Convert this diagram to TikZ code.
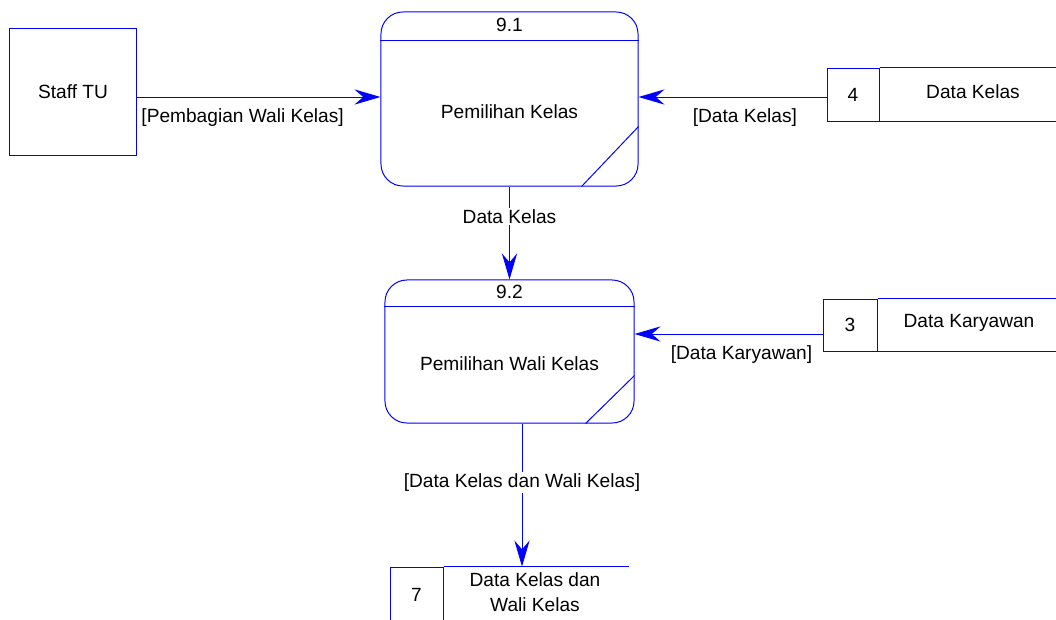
\documentclass[tikz,border=0pt]{standalone}
\usepackage{fontspec}
\setmainfont{Liberation Sans}
\usetikzlibrary{arrows.meta,calc}
\definecolor{dfdblue}{RGB}{0,0,255}

\begin{document}
\begin{tikzpicture}[
    x=0.025cm,
    y=0.025cm,
    font=\fontsize{13.6pt}{17.8pt}\selectfont,
    line width=0.7pt
]

% =========================
% Styles
% =========================
\tikzstyle{entity} = [
    rectangle, draw=dfdblue,
    minimum width=3.15cm,
    minimum height=3.15cm,
    inner sep=0pt
]

\tikzstyle{process} = [
    rectangle, draw=dfdblue,
    rounded corners=0.55cm,
    inner sep=0pt
]

\tikzstyle{storeid} = [
    rectangle, draw=dfdblue,
    inner sep=0pt
]

\tikzstyle{line} = [draw=dfdblue, -{Stealth[length=0.65cm, width=0.38cm, inset=0.22cm]}]
\tikzstyle{flow} = [inner sep=0pt, below=0.29cm]
\tikzstyle{cut} = [fill=white, inner sep=1pt]

\useasboundingbox (0,0) rectangle (1056,-619);

% =========================
% Nodes (FIXED POSITIONS)
% =========================
\node[entity] (stafftu) at (73,-92) {Staff TU};

\node[process, minimum width=6.425cm, minimum height=4.35cm] (p91) at (509.5,-99) {};
\node (p91id) at ($(p91.north)+(0,-13)$) {9.1};
\node (p91name) at ($(p91.center)+(0,-13)$) {Pemilihan Kelas};
\draw[dfdblue] ($(p91.north west)+(0,-29)$) -- ($(p91.north east)+(0,-29)$);
\draw[dfdblue] ($(p91.south east)+(0,60)$) -- ($(p91.south east)+(-57,0)$);

\node[process, minimum width=6.225cm, minimum height=3.575cm] (p92) at (509.5,-351.5) {};
\node (p92id) at ($(p92.north)+(0,-12)$) {9.2};
\node (p92name) at ($(p92.center)+(0,-12.5)$) {Pemilihan Wali Kelas};
\draw[dfdblue] ($(p92.north west)+(0,-27)$) -- ($(p92.north east)+(0,-27)$);
\draw[dfdblue] ($(p92.south east)+(0,48)$) -- ($(p92.south east)+(-49,0)$);

\node[storeid, minimum width=1.3cm, minimum height=1.325cm] (ds4) at (853,-94.5) {4};
\node (ds4name) at (973,-92) {Data Kelas};
\draw[dfdblue] (ds4.north east) -- ++(200,0);
\draw[dfdblue] (ds4.south east) -- ++(200,0);

\node[storeid, minimum width=1.35cm, minimum height=1.3cm] (ds3) at (850,-325) {3};
\node (ds3name) at (969,-323) {Data Karyawan};
\draw[dfdblue] (ds3.north east) -- ++(200,0);
\draw[dfdblue] (ds3.south east) -- ++(200,0);

\node[storeid, minimum width=1.325cm, minimum height=1.375cm] (ds7) at (416.5,-594.5) {7};
\node[align=center] (ds7name) at (535,-592) {Data Kelas dan\\Wali Kelas};
\draw[dfdblue] (ds7.north east) -- ++(185,0);

% =========================
% Connections
% =========================
\coordinate (a1) at ($(stafftu.east)+(0,-5)$);
\path[line] (a1) --
    node[flow, pos=0.435] {[Pembagian Wali Kelas]}
    (a1 -| p91.west);

\coordinate (a2) at ($(ds4.west)+(0,-2.5)$);
\path[line] (a2) --
    node[flow, pos=0.434] {[Data Kelas]}
    (a2 -| p91.east);

\path[line] (p91.south) --
    node[cut, pos=0.319] {Data Kelas}
    (p92.north);

\coordinate (a3) at ($(ds3.west)+(0,-9)$);
\path[line] (a3) --
    node[flow, pos=0.431] {[Data Karyawan]}
    (a3 -| p92.east);

\coordinate (a4) at ($(p92.south)+(12.5,0)$);
\path[line] (a4) --
    node[cut, pos=0.413] {[Data Kelas dan Wali Kelas]}
    (a4 |- ds7.north);

\end{tikzpicture}
\end{document}
